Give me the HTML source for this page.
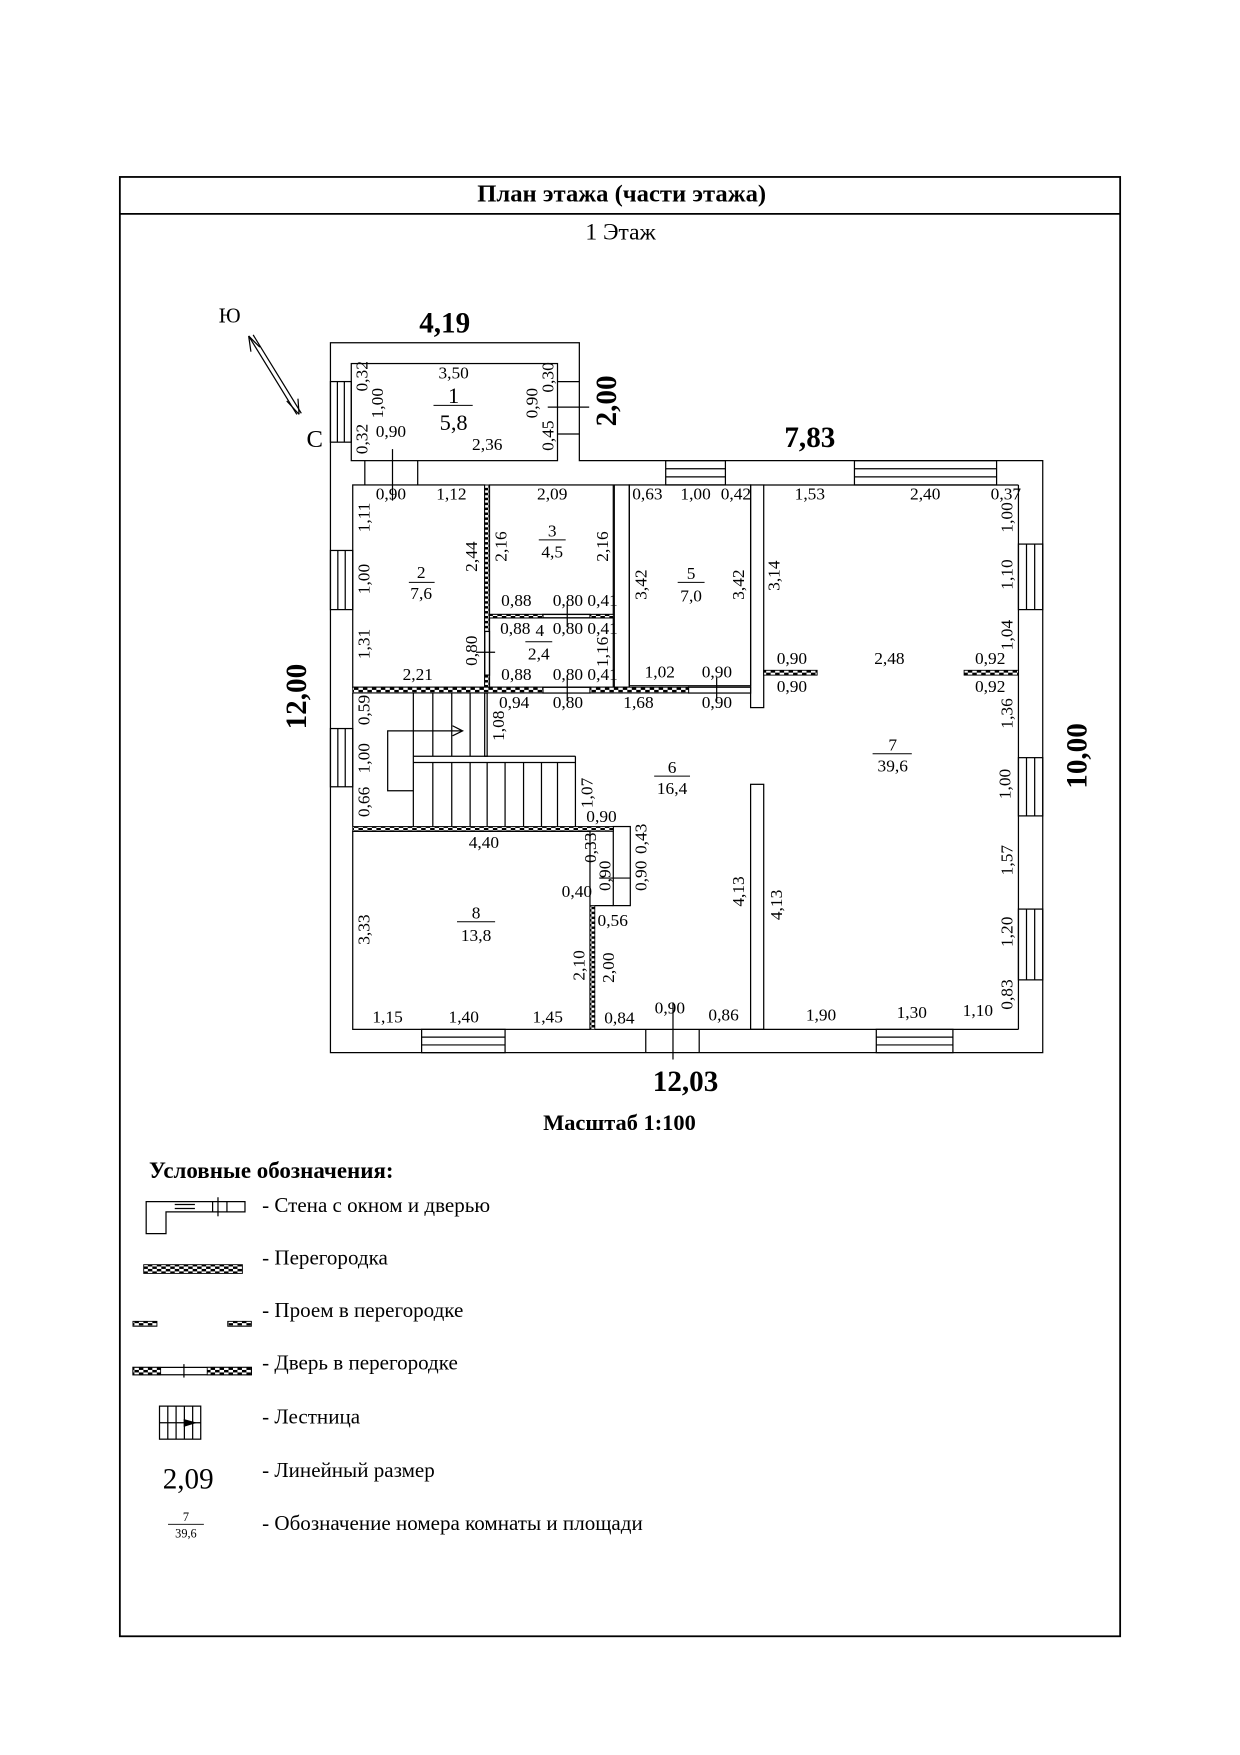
<!DOCTYPE html>
<html><head><meta charset="utf-8"><style>html,body{margin:0;padding:0;background:#fff}svg{display:block}text{font-family:"Liberation Serif",serif;fill:#000}</style></head><body>
<svg width="1240" height="1755" viewBox="0 0 1107 1567" preserveAspectRatio="none" xmlns="http://www.w3.org/2000/svg">
<defs><pattern id="ck" width="8" height="4.4" patternUnits="userSpaceOnUse"><rect width="8" height="4.4" fill="#fff"/><rect x="0" y="0" width="4" height="2.2" fill="#000"/><rect x="4" y="2.2" width="4" height="2.2" fill="#000"/></pattern></defs>
<g fill="none" stroke="#000" stroke-width="1.3">
<rect x="107" y="158" width="893" height="1303" stroke-width="1.6"/>
<line x1="107" y1="191" x2="1000" y2="191" stroke-width="1.6"/>
</g>
<text x="555" y="180" font-size="22" font-weight="bold" text-anchor="middle">План этажа (части этажа)</text>
<text x="554" y="214" font-size="21" text-anchor="middle">1 Этаж</text>
<g fill="none" stroke="#000" stroke-width="1.1">
<path d="M295,306 H517.2 V411.3 H930.9 V939.9 H295 Z"/>
<rect x="313.6" y="324.6" width="184.1" height="86.7"/>
<line x1="497.7" y1="340.7" x2="517.2" y2="340.7"/><line x1="497.7" y1="387.5" x2="517.2" y2="387.5"/>
<line x1="489" y1="363.5" x2="526" y2="363.5"/>
<line x1="325.7" y1="411.3" x2="325.7" y2="433"/><line x1="372.9" y1="411.3" x2="372.9" y2="433"/>
<line x1="350.4" y1="401" x2="350.4" y2="447"/>
<rect x="314.9" y="433" width="117.8" height="180.6"/>
<rect x="437" y="433" width="110.5" height="115.6"/>
<rect x="437" y="551.7" width="110.5" height="61.9"/>
<rect x="548.4" y="433" width="13.4" height="180.6"/>
<rect x="561.8" y="433" width="108.3" height="179.3"/>
<rect x="670.1" y="433" width="11.7" height="198.8"/>
<rect x="670.1" y="700.3" width="11.7" height="218.8"/>
<line x1="681.8" y1="433" x2="909.2" y2="433"/>
<line x1="909.2" y1="433" x2="909.2" y2="919.1"/>
<line x1="531" y1="919.1" x2="909.2" y2="919.1"/>
<line x1="314.9" y1="618.8" x2="314.9" y2="738"/>
<rect x="314.9" y="742.3" width="211.8" height="176.8"/>
<rect x="547.5" y="738" width="15.2" height="70.6"/>
<line x1="531" y1="808.6" x2="547.5" y2="808.6"/>
<line x1="535" y1="784" x2="563" y2="784"/>
<line x1="425" y1="582.4" x2="442" y2="582.4"/>
<line x1="506.4" y1="540" x2="506.4" y2="560"/>
<line x1="506.4" y1="605" x2="506.4" y2="626"/>
<line x1="639.8" y1="605" x2="639.8" y2="626"/>
<line x1="600.8" y1="895" x2="600.8" y2="946"/>
<line x1="576.5" y1="919.1" x2="576.5" y2="939.9"/><line x1="624.2" y1="919.1" x2="624.2" y2="939.9"/>
<line x1="369" y1="618.8" x2="369" y2="738"/>
<line x1="386.4" y1="618.8" x2="386.4" y2="675.2"/><line x1="403.3" y1="618.8" x2="403.3" y2="675.2"/><line x1="419.7" y1="618.8" x2="419.7" y2="675.2"/>
<rect x="432.7" y="618.8" width="2.2" height="56.4"/>
<line x1="369" y1="675.2" x2="513.7" y2="675.2"/><line x1="369" y1="680.8" x2="513.7" y2="680.8"/>
<line x1="513.7" y1="675.2" x2="513.7" y2="738"/>
<line x1="386.4" y1="680.8" x2="386.4" y2="738"/><line x1="403.3" y1="680.8" x2="403.3" y2="738"/><line x1="419.7" y1="680.8" x2="419.7" y2="738"/><line x1="434.9" y1="680.8" x2="434.9" y2="738"/><line x1="450.9" y1="680.8" x2="450.9" y2="738"/><line x1="467.4" y1="680.8" x2="467.4" y2="738"/><line x1="483.4" y1="680.8" x2="483.4" y2="738"/><line x1="497.7" y1="680.8" x2="497.7" y2="738"/>
<path d="M369,706 H346.1 V652.6 H413 M404,648 L413,652.6 L404,657"/>
<rect x="484.7" y="548.6" width="42" height="3.1"/>
<rect x="484.7" y="613.6" width="42" height="5.2"/>
<rect x="614.7" y="613.6" width="55.4" height="5.2"/>
<rect x="432.7" y="563.8" width="4.3" height="39"/>
<g>
<rect x="295" y="340.7" width="18.6" height="54.1"/><line x1="301.2" y1="340.7" x2="301.2" y2="394.8"/><line x1="307.4" y1="340.7" x2="307.4" y2="394.8"/>
<rect x="295" y="491.5" width="19.9" height="52.8"/><line x1="301.6" y1="491.5" x2="301.6" y2="544.3"/><line x1="308.2" y1="491.5" x2="308.2" y2="544.3"/>
<rect x="295" y="650.5" width="19.9" height="52"/><line x1="301.6" y1="650.5" x2="301.6" y2="702.5"/><line x1="308.2" y1="650.5" x2="308.2" y2="702.5"/>
<rect x="909.2" y="485.8" width="21.7" height="58.5"/><line x1="916.4" y1="485.8" x2="916.4" y2="544.3"/><line x1="923.7" y1="485.8" x2="923.7" y2="544.3"/>
<rect x="909.2" y="676.5" width="21.7" height="52"/><line x1="916.4" y1="676.5" x2="916.4" y2="728.5"/><line x1="923.7" y1="676.5" x2="923.7" y2="728.5"/>
<rect x="909.2" y="811.7" width="21.7" height="63.2"/><line x1="916.4" y1="811.7" x2="916.4" y2="874.9"/><line x1="923.7" y1="811.7" x2="923.7" y2="874.9"/>
<rect x="594.3" y="411.3" width="53.3" height="21.7"/><line x1="594.3" y1="418.5" x2="647.6" y2="418.5"/><line x1="594.3" y1="425.8" x2="647.6" y2="425.8"/>
<rect x="762.8" y="411.3" width="126.9" height="21.7"/><line x1="762.8" y1="418.5" x2="889.7" y2="418.5"/><line x1="762.8" y1="425.8" x2="889.7" y2="425.8"/>
<rect x="376.4" y="919.1" width="74.5" height="20.8"/><line x1="376.4" y1="926" x2="450.9" y2="926"/><line x1="376.4" y1="933" x2="450.9" y2="933"/>
<rect x="782.3" y="919.1" width="68.4" height="20.8"/><line x1="782.3" y1="926" x2="850.7" y2="926"/><line x1="782.3" y1="933" x2="850.7" y2="933"/>
</g>
<line x1="222" y1="300" x2="265" y2="370"/><line x1="226" y1="299" x2="269" y2="369"/>
<path d="M222,300 L224,314 M222,300 L232,310 M267,370 L256,358 M267,370 L266,356"/>
<path d="M130.5,1101.5 V1072.9 H218.7 V1082.1 H148.2 V1101.5 Z"/>
<line x1="156" y1="1075.5" x2="174" y2="1075.5"/><line x1="156" y1="1079" x2="174" y2="1079"/>
<line x1="189.8" y1="1072.9" x2="189.8" y2="1082.1"/><line x1="202.6" y1="1072.9" x2="202.6" y2="1082.1"/><line x1="194.6" y1="1069" x2="194.6" y2="1086"/>
<rect x="142.4" y="1255.5" width="36.8" height="29.5"/>
<line x1="149.8" y1="1255.5" x2="149.8" y2="1285"/><line x1="157.2" y1="1255.5" x2="157.2" y2="1285"/><line x1="164.6" y1="1255.5" x2="164.6" y2="1285"/><line x1="172" y1="1255.5" x2="172" y2="1285"/>
<line x1="142.4" y1="1270.3" x2="179.2" y2="1270.3"/>
<line x1="150" y1="1361" x2="182" y2="1361" stroke-width="0.8"/>
<rect x="118.7" y="1220.9" width="105.7" height="6.6"/>
<line x1="164.2" y1="1218" x2="164.2" y2="1230"/>
</g>
<path d="M164,1267 L176,1270.3 L164,1274 Z" fill="#000"/>
<g fill="url(#ck)" stroke="#000" stroke-width="0.8">
<rect x="432.7" y="433" width="4.3" height="130.8"/>
<rect x="432.7" y="602.8" width="4.3" height="10.8"/>
<rect x="437" y="548.6" width="47.7" height="3.1"/>
<rect x="526.7" y="548.6" width="20.8" height="3.1"/>
<rect x="314.9" y="613.6" width="169.8" height="5.2"/>
<rect x="526.7" y="613.6" width="88" height="5.2"/>
<rect x="314.9" y="738" width="232.6" height="4.3"/>
<rect x="526.7" y="808.6" width="4.3" height="110.5"/>
<rect x="681.8" y="598.5" width="47.7" height="4.3"/>
<rect x="860.7" y="598.5" width="48.5" height="4.3"/>
<rect x="128.3" y="1129.2" width="88.1" height="7.8"/>
<rect x="118.7" y="1179.8" width="21.4" height="4.4"/>
<rect x="203.3" y="1179.8" width="21.1" height="4.4"/>
<rect x="118.7" y="1220.9" width="24.7" height="6.6"/>
<rect x="185" y="1220.9" width="39.4" height="6.6"/>
</g>
<g stroke="#000" stroke-width="0.9">
<line x1="387" y1="362" x2="422" y2="362"/><line x1="365" y1="520" x2="388" y2="520"/>
<line x1="481" y1="482" x2="505" y2="482"/><line x1="469" y1="573" x2="493" y2="573"/>
<line x1="605" y1="520" x2="629" y2="520"/><line x1="584" y1="693" x2="616" y2="693"/>
<line x1="779" y1="673" x2="814" y2="673"/><line x1="408" y1="823" x2="442" y2="823"/>
</g>
<g font-size="15.5" text-anchor="middle">
<text x="405" y="338">3,50</text><text x="405" y="360" font-size="20">1</text><text x="405" y="384" font-size="20">5,8</text>
<text x="435" y="402">2,36</text><text x="349" y="390">0,90</text>
<text x="349" y="446">0,90</text><text x="403" y="446">1,12</text>
<text x="376" y="516">2</text><text x="376" y="535">7,6</text><text x="373" y="607">2,21</text>
<text x="493" y="446">2,09</text><text x="493" y="479">3</text><text x="493" y="498">4,5</text>
<text x="461" y="541">0,88</text><text x="507" y="541">0,80</text><text x="538" y="541">0,41</text>
<text x="460" y="566">0,88</text><text x="482" y="568">4</text><text x="507" y="566">0,80</text><text x="538" y="566">0,41</text><text x="481" y="589">2,4</text>
<text x="461" y="607">0,88</text><text x="507" y="607">0,80</text><text x="538" y="607">0,41</text>
<text x="578" y="446">0,63</text><text x="621" y="446">1,00</text><text x="657" y="446">0,42</text>
<text x="617" y="517">5</text><text x="617" y="537">7,0</text><text x="589" y="605">1,02</text><text x="640" y="605">0,90</text>
<text x="459" y="632">0,94</text><text x="507" y="632">0,80</text><text x="570" y="632">1,68</text><text x="640" y="632">0,90</text>
<text x="537" y="734">0,90</text><text x="515" y="801">0,40</text><text x="547" y="827">0,56</text>
<text x="600" y="690">6</text><text x="600" y="709">16,4</text>
<text x="553" y="914">0,84</text><text x="598" y="905">0,90</text><text x="646" y="911">0,86</text>
<text x="723" y="446">1,53</text><text x="826" y="446">2,40</text><text x="898" y="446">0,37</text>
<text x="707" y="593">0,90</text><text x="707" y="618">0,90</text><text x="794" y="593">2,48</text><text x="884" y="593">0,92</text><text x="884" y="618">0,92</text>
<text x="797" y="670">7</text><text x="797" y="689">39,6</text>
<text x="733" y="911">1,90</text><text x="814" y="909">1,30</text><text x="873" y="907">1,10</text>
<text x="432" y="757">4,40</text><text x="425" y="820">8</text><text x="425" y="840">13,8</text>
<text x="346" y="913">1,15</text><text x="414" y="913">1,40</text><text x="489" y="913">1,45</text>
</g>
<g font-size="15.5" text-anchor="middle">
<text transform="translate(328,336) rotate(-90)">0,32</text>
<text transform="translate(342,360) rotate(-90)">1,00</text>
<text transform="translate(328,392) rotate(-90)">0,32</text>
<text transform="translate(480,360) rotate(-90)">0,90</text>
<text transform="translate(494,337) rotate(-90)">0,30</text>
<text transform="translate(494,389) rotate(-90)">0,45</text>
<text transform="translate(330,462) rotate(-90)">1,11</text>
<text transform="translate(330,517) rotate(-90)">1,00</text>
<text transform="translate(330,575) rotate(-90)">1,31</text>
<text transform="translate(426,497) rotate(-90)">2,44</text>
<text transform="translate(426,581) rotate(-90)">0,80</text>
<text transform="translate(452,488) rotate(-90)">2,16</text>
<text transform="translate(543,488) rotate(-90)">2,16</text>
<text transform="translate(543,582) rotate(-90)">1,16</text>
<text transform="translate(577,522) rotate(-90)">3,42</text>
<text transform="translate(664,522) rotate(-90)">3,42</text>
<text transform="translate(696,514) rotate(-90)">3,14</text>
<text transform="translate(330,634) rotate(-90)">0,59</text>
<text transform="translate(330,677) rotate(-90)">1,00</text>
<text transform="translate(330,716) rotate(-90)">0,66</text>
<text transform="translate(450,648) rotate(-90)">1,08</text>
<text transform="translate(529,708) rotate(-90)">1,07</text>
<text transform="translate(532,757) rotate(-90)">0,33</text>
<text transform="translate(577,749) rotate(-90)">0,43</text>
<text transform="translate(545,782) rotate(-90)">0,90</text>
<text transform="translate(577,782) rotate(-90)">0,90</text>
<text transform="translate(522,862) rotate(-90)">2,10</text>
<text transform="translate(548,864) rotate(-90)">2,00</text>
<text transform="translate(664,796) rotate(-90)">4,13</text>
<text transform="translate(698,808) rotate(-90)">4,13</text>
<text transform="translate(330,830) rotate(-90)">3,33</text>
<text transform="translate(904,462) rotate(-90)">1,00</text>
<text transform="translate(904,513) rotate(-90)">1,10</text>
<text transform="translate(904,567) rotate(-90)">1,04</text>
<text transform="translate(904,637) rotate(-90)">1,36</text>
<text transform="translate(902,700) rotate(-90)">1,00</text>
<text transform="translate(904,768) rotate(-90)">1,57</text>
<text transform="translate(904,832) rotate(-90)">1,20</text>
<text transform="translate(904,888) rotate(-90)">0,83</text>
</g>
<g font-size="26" font-weight="bold" text-anchor="middle">
<text x="397" y="297">4,19</text>
<text x="723" y="399">7,83</text>
<text x="612" y="974">12,03</text>
<text transform="translate(550,358) rotate(-90)">2,00</text>
<text transform="translate(273,622) rotate(-90)">12,00</text>
<text transform="translate(970,675) rotate(-90)">10,00</text>
</g>
<text x="205" y="288" font-size="19" text-anchor="middle">Ю</text>
<text x="281" y="399" font-size="22" text-anchor="middle">С</text>
<text x="553" y="1009" font-size="20" font-weight="bold" text-anchor="middle">Масштаб 1:100</text>
<text x="133" y="1052" font-size="20.5" font-weight="bold">Условные обозначения:</text>
<g font-size="18.8">
<text x="234" y="1082">- Стена с окном и дверью</text>
<text x="234" y="1129">- Перегородка</text>
<text x="234" y="1176">- Проем в перегородке</text>
<text x="234" y="1223">- Дверь в перегородке</text>
<text x="234" y="1271">- Лестница</text>
<text x="234" y="1319">- Линейный размер</text>
<text x="234" y="1366">- Обозначение номера комнаты и площади</text>
</g>
<text x="168" y="1329" font-size="26" text-anchor="middle">2,09</text>
<text x="166" y="1358" font-size="11" text-anchor="middle">7</text>
<text x="166" y="1373" font-size="11" text-anchor="middle">39,6</text>
</svg>
</body></html>
